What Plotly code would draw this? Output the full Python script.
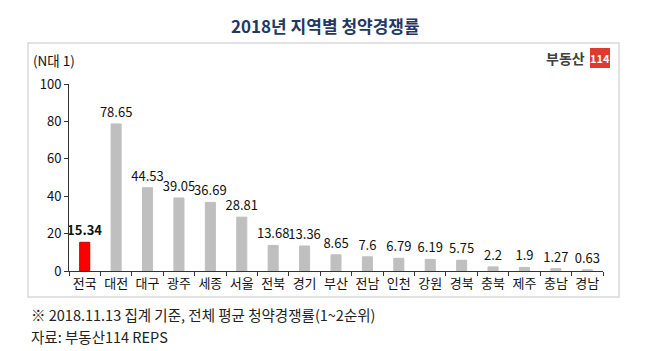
import plotly.graph_objects as go

categories = ["전국", "대전", "대구", "광주", "세종", "서울", "전북", "경기", "부산",
              "전남", "인천", "강원", "경북", "충북", "제주", "충남", "경남"]
values = [15.34, 78.65, 44.53, 39.05, 36.69, 28.81, 13.68, 13.36, 8.65,
          7.6, 6.79, 6.19, 5.75, 2.2, 1.9, 1.27, 0.63]
highlight = "전국"
title_text = "2018년 지역별 청약경쟁률"
unit_text = "(N대 1)"
note1 = "※ 2018.11.13 집계 기준, 전체 평균 청약경쟁률(1~2순위)"
note2 = "자료: 부동산114 REPS"

W, H = 648, 351
L, R, T, B = 69, 45, 84, 80
pw, ph = W - L - R, H - T - B

def px(x):
    return (x - L) / pw

def py(y):
    return (H - B - y) / ph

FONT = "Noto Sans CJK KR"
colors = ["#FF0000" if c == highlight else "#BFBFBF" for c in categories]
line_colors = ["#C00000" if c == highlight else "#BFBFBF" for c in categories]
texts = [f"<b>{v}</b>" if c == highlight else f"{v}" for c, v in zip(categories, values)]

fig = go.Figure(go.Bar(
    x=categories, y=values, marker=dict(color=colors, line=dict(color=line_colors, width=1)),
    width=0.32, text=texts, textposition="outside", cliponaxis=False, constraintext="none",
    textfont=dict(family=FONT, size=13, color="#111111"),
))

fig.update_layout(
    width=W, height=H, margin=dict(l=L, r=R, t=T, b=B),
    paper_bgcolor="white", plot_bgcolor="white", showlegend=False,
    font=dict(family=FONT, color="#111111"),
    uniformtext=dict(mode=False),
    xaxis=dict(type="category", tickson="boundaries", ticks="outside", ticklen=4,
               tickcolor="#333333", showline=True, linecolor="#333333", linewidth=1,
               tickangle=0,
               tickfont=dict(family=FONT, size=13, color="#111111"), showgrid=False,
               fixedrange=True),
    yaxis=dict(range=[0, 100], tickvals=[0, 20, 40, 60, 80, 100], ticks="outside", ticklen=4,
               tickcolor="#333333", showline=True, linecolor="#333333", linewidth=1,
               tickfont=dict(family=FONT, size=13, color="#111111"), showgrid=False,
               zeroline=False, fixedrange=True),
    bargap=0.5,
)

shapes = [
    dict(type="rect", xref="paper", yref="paper", x0=px(28), x1=px(619), y0=py(297), y1=py(43),
         line=dict(color="#D9D9D9", width=1.5), fillcolor="rgba(0,0,0,0)", layer="below"),
    dict(type="rect", xref="paper", yref="paper", x0=px(590), x1=px(610), y0=py(68), y1=py(48),
         line=dict(width=0), fillcolor="#E03A2E"),
]
annotations = [
    dict(text=f"<b>{title_text}</b>", xref="paper", yref="paper", x=px(325), y=py(25),
         xanchor="center", yanchor="middle", showarrow=False,
         font=dict(family=FONT, size=17, color="#1F3864")),
    dict(text=unit_text, xref="paper", yref="paper", x=px(31), y=py(60),
         xanchor="left", yanchor="middle", showarrow=False,
         font=dict(family=FONT, size=13.5, color="#111111")),
    dict(text="<b>부동산</b>", xref="paper", yref="paper", x=px(587), y=py(58),
         xanchor="right", yanchor="middle", showarrow=False,
         font=dict(family=FONT, size=14, color="#404040")),
    dict(text="<b>114</b>", xref="paper", yref="paper", x=px(600), y=py(58),
         xanchor="center", yanchor="middle", showarrow=False,
         font=dict(family=FONT, size=11, color="white")),
    dict(text=note1, xref="paper", yref="paper", x=px(29), y=py(314),
         xanchor="left", yanchor="middle", showarrow=False,
         font=dict(family=FONT, size=14.5, color="#222222")),
    dict(text=note2, xref="paper", yref="paper", x=px(29), y=py(336),
         xanchor="left", yanchor="middle", showarrow=False,
         font=dict(family=FONT, size=14.5, color="#222222")),
]
fig.update_layout(shapes=shapes, annotations=annotations)
fig.write_html("out.html")
